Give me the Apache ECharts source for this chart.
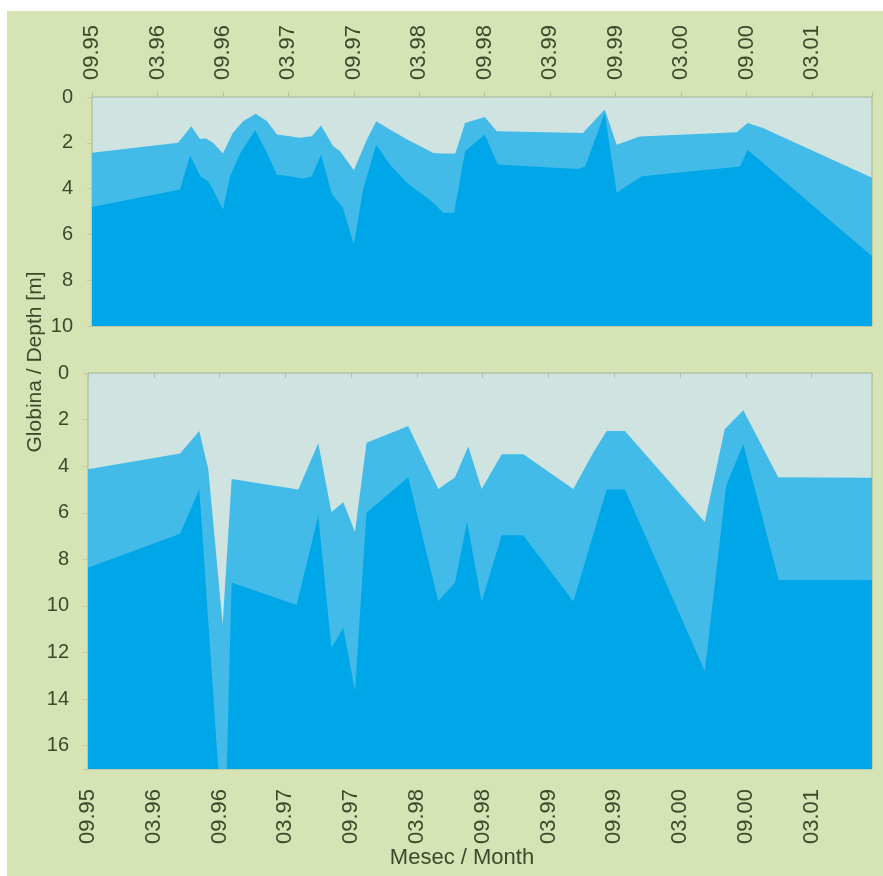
<!DOCTYPE html>
<html>
<head>
<meta charset="utf-8">
<script src="https://cdn.jsdelivr.net/npm/echarts@6.0.0/dist/echarts.min.js"></script>
<style>
  html, body { margin: 0; padding: 0; background: #ffffff; }
  #paper { position: absolute; left: 7px; top: 11px; width: 876px; height: 865px; background: #d5e3b5; }
  #chart { position: absolute; left: 0; top: 0; width: 883px; height: 876px; }
</style>
</head>
<body>
<div id="paper"></div>
<div id="chart"></div>
<script>
// x = months since 09.95, y = depth in metres
const tickLabels = ['09.95', '03.96', '09.96', '03.97', '09.97', '03.98', '09.98', '03.99', '09.99', '03.00', '09.00', '03.01'];

const topUpperX = [0, 7.9, 9.1, 9.9, 10.4, 11.1, 12.0, 12.9, 13.85, 15.0, 16.05, 16.95, 18.15, 19.05, 20.15, 21.0, 22.1, 22.75, 24.0, 25.2, 26.05, 27.3, 28.9, 31.3, 32.1, 33.3, 34.2, 36.0, 37.1, 45.0, 47.0, 48.1, 50.2, 59.1, 60.1, 61.5, 71.5];
const topUpperY = [2.43, 2.0, 1.28, 1.83, 1.8, 2.0, 2.47, 1.57, 1.06, 0.73, 1.06, 1.64, 1.71, 1.78, 1.71, 1.24, 2.15, 2.37, 3.2, 1.86, 1.06, 1.42, 1.86, 2.44, 2.47, 2.47, 1.13, 0.87, 1.5, 1.57, 0.55, 2.08, 1.72, 1.54, 1.13, 1.35, 3.53];

const topLowerX = [0, 8.05, 9.0, 9.93, 10.65, 11.1, 12.0, 12.65, 13.6, 14.95, 16.05, 16.95, 18.15, 19.35, 20.15, 21.0, 22.0, 23.0, 24.0, 24.85, 26.05, 27.3, 28.9, 31.3, 32.2, 33.2, 34.2, 36.0, 37.2, 44.5, 45.2, 47.0, 48.1, 50.4, 59.4, 60.1, 71.5];
const topLowerY = [4.8, 4.04, 2.56, 3.46, 3.68, 4.04, 4.91, 3.46, 2.44, 1.45, 2.44, 3.39, 3.46, 3.57, 3.46, 2.52, 4.26, 4.84, 6.44, 4.04, 2.08, 2.95, 3.75, 4.62, 5.06, 5.06, 2.37, 1.64, 2.95, 3.14, 3.05, 0.7, 4.18, 3.46, 3.03, 2.3, 6.95];

const botUpperX = [0, 8.4, 10.15, 10.97, 12.28, 13.1, 19.18, 21.0, 22.2, 23.28, 24.35, 25.4, 29.2, 31.95, 33.47, 34.68, 35.9, 37.73, 39.7, 44.26, 46.08, 47.3, 48.97, 56.25, 58.07, 59.76, 62.95, 71.5];
const botUpperY = [4.13, 3.46, 2.49, 4.13, 10.8, 4.55, 5.0, 3.02, 5.97, 5.55, 6.83, 2.99, 2.28, 4.98, 4.48, 3.16, 4.98, 3.49, 3.49, 4.98, 3.41, 2.49, 2.49, 6.4, 2.42, 1.6, 4.48, 4.5];

const botLowerX = [0, 8.4, 10.15, 11.88, 12.65, 13.1, 19.03, 21.0, 22.2, 23.28, 24.35, 25.4, 29.2, 31.95, 33.47, 34.57, 35.9, 37.73, 39.7, 44.26, 47.3, 48.97, 56.25, 58.2, 59.76, 62.99, 71.5];
const botLowerY = [8.36, 6.9, 4.98, 17, 17, 8.99, 9.96, 6.12, 11.8, 10.95, 13.65, 6.0, 4.48, 9.8, 8.99, 6.4, 9.81, 6.97, 6.97, 9.81, 5.0, 5.0, 12.8, 4.84, 3.06, 8.89, 8.89];

const textColor = '#3a4a2b';
const fontFamily = '"Liberation Sans", Arial, sans-serif';
const midBlue = '#43bbe8';
const darkBlue = '#00a7e8';

const pairs = (xs, ys) => xs.map((x, i) => [x, ys[i]]);

const makeXAxis = (gridIndex, position, margin) => ({
  type: 'value',
  gridIndex: gridIndex,
  position: position,
  min: 0,
  max: 71.5,
  interval: 6,
  splitLine: { show: false },
  axisLine: { show: false },
  axisTick: { show: true, length: 5, lineStyle: { color: '#b3c29c' } },
  axisLabel: {
    rotate: 90,
    margin: margin,
    fontSize: 22,
    color: textColor,
    fontFamily: fontFamily,
    formatter: (v) => (v % 6 === 0 ? tickLabels[v / 6] : '')
  }
});

const makeYAxis = (gridIndex, max) => ({
  type: 'value',
  gridIndex: gridIndex,
  inverse: true,
  min: 0,
  max: max,
  interval: 2,
  splitLine: { show: false },
  axisLine: { show: false },
  axisTick: { show: true, length: 5, lineStyle: { color: '#c9c79e' } },
  axisLabel: {
    margin: 19,
    fontSize: 20,
    color: textColor,
    fontFamily: fontFamily,
    formatter: (v) => (v % 2 === 0 ? String(v) : '')
  }
});

const makeArea = (index, data, color, max) => ({
  type: 'line',
  xAxisIndex: index,
  yAxisIndex: index,
  data: data,
  showSymbol: false,
  silent: true,
  lineStyle: { width: 0 },
  areaStyle: { color: color, opacity: 1, origin: max }
});

const chart = echarts.init(document.getElementById('chart'));

chart.setOption({
  backgroundColor: 'transparent',
  animation: false,
  grid: [
    { left: 92, right: 11, top: 97, height: 229, show: true, backgroundColor: '#cfe4e1', borderColor: '#a6b596', borderWidth: 1 },
    { left: 88, right: 11, top: 373, height: 396, show: true, backgroundColor: '#cfe4e1', borderColor: '#a6b596', borderWidth: 1 }
  ],
  xAxis: [
    makeXAxis(0, 'top', 17),
    makeXAxis(1, 'bottom', 20)
  ],
  yAxis: [
    makeYAxis(0, 10),
    makeYAxis(1, 17)
  ],
  series: [
    makeArea(0, pairs(topUpperX, topUpperY), midBlue, 10),
    makeArea(0, pairs(topLowerX, topLowerY), darkBlue, 10),
    makeArea(1, pairs(botUpperX, botUpperY), midBlue, 17),
    makeArea(1, pairs(botLowerX, botLowerY), darkBlue, 17)
  ],
  graphic: [
    {
      type: 'text',
      x: 35,
      y: 362,
      rotation: Math.PI / 2,
      style: { text: 'Globina / Depth [m]', fontSize: 21, fill: textColor, fontFamily: fontFamily, align: 'center', verticalAlign: 'middle' }
    },
    {
      type: 'text',
      x: 462,
      y: 858,
      style: { text: 'Mesec / Month', fontSize: 22, fill: textColor, fontFamily: fontFamily, align: 'center', verticalAlign: 'middle' }
    }
  ]
});
</script>
</body>
</html>
